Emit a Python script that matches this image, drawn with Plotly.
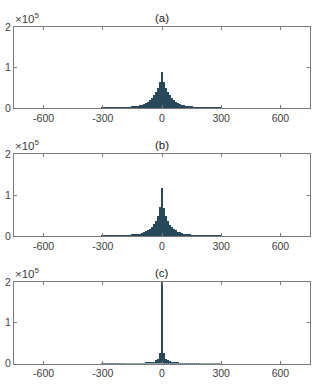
import numpy as np
import plotly.graph_objects as go

# Histogram bin centers (bin width 10)
bin_centers = list(range(-300, 301, 10))

# Counts in thousands, bins from -300 to 300
counts_a_k = [0.12, 0.15, 0.19, 0.23, 0.28, 0.34, 0.42, 0.52, 0.64, 0.8, 1.0, 1.25, 1.55, 1.95, 2.45,
              3.0, 3.7, 4.6, 5.6, 6.8, 8.3, 10.2, 12.6, 15.6, 19.6, 24.6, 31.0, 39.3, 50.4, 64.5,
              88,
              65, 50, 39, 31, 24.5, 19.5, 15.5, 12.5, 10, 8.2, 6.7, 5.5, 4.5, 3.6, 2.95,
              2.4, 1.95, 1.55, 1.25, 1.0, 0.8, 0.64, 0.52, 0.42, 0.34, 0.28, 0.23, 0.19, 0.15, 0.12]
counts_b_k = [0.1, 0.12, 0.15, 0.19, 0.23, 0.28, 0.35, 0.43, 0.53, 0.66, 0.82, 1.02, 1.28, 1.6, 2.0,
              2.5, 3.1, 3.8, 4.7, 5.8, 7.1, 8.8, 11.0, 13.8, 17.4, 22.0, 28.4, 37.6, 49.6, 70,
              116,
              69, 49, 37, 28, 22, 17.2, 13.6, 10.8, 8.7, 7.0, 5.7, 4.6, 3.7, 3.0, 2.45,
              1.98, 1.6, 1.28, 1.02, 0.82, 0.66, 0.53, 0.43, 0.35, 0.28, 0.23, 0.19, 0.15, 0.12, 0.1]
counts_c_k = [0.02, 0.025, 0.03, 0.035, 0.04, 0.05, 0.06, 0.07, 0.08, 0.1, 0.12, 0.15, 0.18, 0.22, 0.27,
              0.33, 0.4, 0.5, 0.62, 0.78, 0.98, 1.22, 1.52, 2.0, 2.6, 3.5, 4.9, 7.4, 12.0, 25,
              235,
              26, 12, 7.5, 5.0, 3.5, 2.6, 2.0, 1.55, 1.22, 0.98, 0.78, 0.62, 0.5, 0.4, 0.33,
              0.27, 0.22, 0.18, 0.15, 0.12, 0.1, 0.08, 0.07, 0.06, 0.05, 0.04, 0.035, 0.03, 0.025, 0.02]

titles = ["(a)", "(b)", "(c)"]
x_ticks = [-600, -300, 0, 300, 600]
x_ticktext = ["-600", "-300", "0", "300", "600"]
y_ticks = [0, 100000, 200000]
y_ticktext = ["0", "1", "2"]

W, H = 317, 387
# panel pixel extents (top, bottom)
panels_px = [(27, 108), (154, 236), (282, 363.5)]

fig = go.Figure()
FONT = "Liberation Sans, Arial, sans-serif"
axis_color = "#7a7a7a"
tick_font = dict(family=FONT, size=10.5, color="#404040")

for i, counts in enumerate([counts_a_k, counts_b_k, counts_c_k]):
    n = "" if i == 0 else str(i + 1)
    fig.add_trace(go.Bar(
        x=bin_centers, y=[c * 1000 for c in counts], width=10,
        marker=dict(color="#27495a", line=dict(width=0)),
        xaxis="x" + n, yaxis="y" + n, showlegend=False,
    ))
    top, bot = panels_px[i]
    dom = [1 - bot / H, 1 - top / H]
    fig.layout["xaxis" + n] = dict(
        domain=[0, 1], range=[-750, 750], anchor="y" + n,
        tickvals=x_ticks, ticktext=x_ticktext, ticks="inside", ticklen=3, tickcolor=axis_color,
        showline=True, linecolor=axis_color, linewidth=1, mirror="ticks",
        showgrid=False, zeroline=False, tickfont=tick_font, automargin=False,
    )
    fig.layout["yaxis" + n] = dict(
        domain=dom, range=[0, 200000], anchor="x" + n,
        tickvals=y_ticks, ticktext=y_ticktext, ticks="inside", ticklen=3, tickcolor=axis_color,
        showline=True, linecolor=axis_color, linewidth=1, mirror="ticks",
        showgrid=False, zeroline=False, tickfont=tick_font, automargin=False,
    )
    fig.add_annotation(x=0.5, y=dom[1], xref="paper", yref="paper", text=titles[i],
                       showarrow=False, yanchor="bottom", yshift=1,
                       font=dict(family=FONT, size=11.5, color="#202020"))
    fig.add_annotation(x=0, y=dom[1], xref="paper", yref="paper", text="×10<sup>5</sup>",
                       showarrow=False, xanchor="left", yanchor="bottom", yshift=0, xshift=-1,
                       font=dict(family=FONT, size=11.5, color="#404040"))

fig.update_layout(
    width=W, height=H, margin=dict(l=14, r=7, t=0, b=0),
    paper_bgcolor="white", plot_bgcolor="white", bargap=0,
)
fig.write_html("out.html")
